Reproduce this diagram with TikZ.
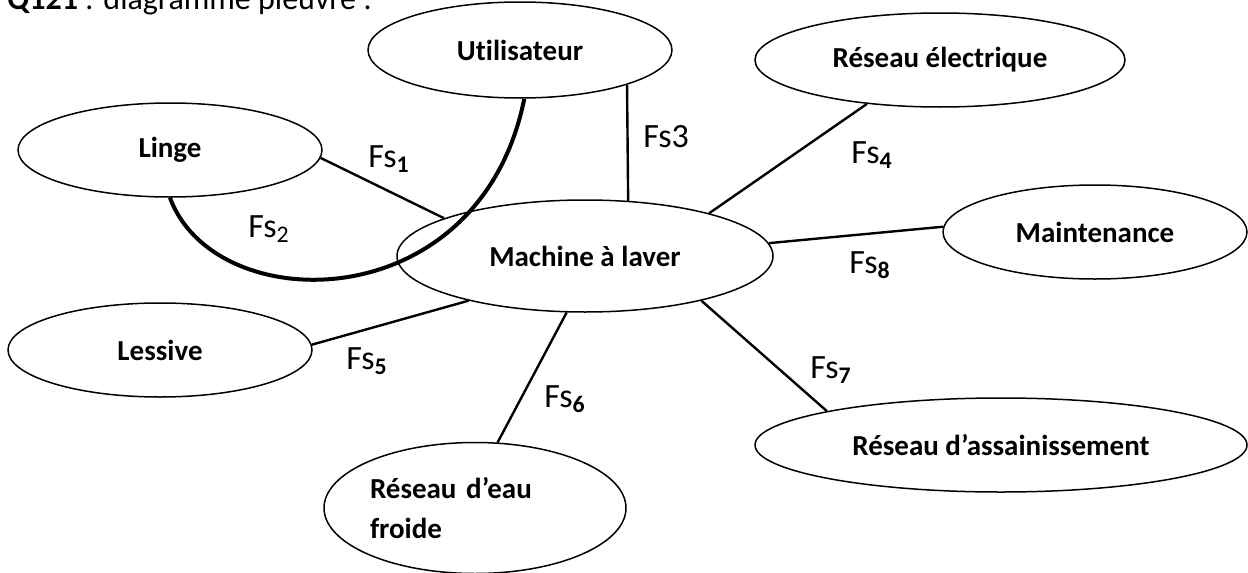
\documentclass[tikz,border=0pt]{standalone}
\usepackage{fontspec}
\setmainfont{Carlito}[Ligatures=NoCommon]
\usetikzlibrary{shapes,arrows.meta,positioning,calc}

\begin{document}
\begin{tikzpicture}[
    x=0.5pt, y=-0.5pt,
    bulle/.style={ellipse, draw, line width=0.75pt, inner sep=0pt, align=center, font=\fontsize{14.5}{20}\selectfont\bfseries},
    fs/.style={anchor=base west, inner sep=0pt, font=\fontsize{17}{20}\selectfont},
    lien/.style={line width=1.2pt}
]
    \useasboundingbox (0,0) rectangle (1248,573);

    \node [anchor=base west, inner sep=0pt, font=\fontsize{16}{20}\selectfont] (titre) at (7,10) {\textbf{Q121} : diagramme pieuvre :};

    \node [bulle, minimum width=188pt, minimum height=56pt] (machine) at (585,256) {Machine à laver};
    \node [bulle, minimum width=152pt, minimum height=48pt] (user) at (520,50) {Utilisateur};
    \node [bulle, minimum width=185pt, minimum height=47pt] (elec) at (940,60) {Réseau électrique};
    \node [bulle, minimum width=152pt, minimum height=47pt] (linge) at (170,150) {Linge};
    \node [bulle, minimum width=152pt, minimum height=47pt] (maint) at (1095,232) {Maintenance};
    \node [bulle, minimum width=152pt, minimum height=47pt] (lessive) at (160,350) {Lessive};
    \node [bulle, minimum width=246pt, minimum height=47pt] (assain) at (1001,445) {Réseau d’assainissement};
    \node [bulle, minimum width=151pt, minimum height=65.5pt, text width=105pt, align=left] (eau) at (475,508) {Réseau d’eau\\froide};

    \draw [lien] (linge.-3) -- (machine.165);
    \draw [line width=2pt] (linge.south) .. controls (215,320) and (480,320) .. (user.-85);
    \draw [lien] (user.-18) -- (machine.52);
    \draw [lien] (elec.211) -- (machine.19);
    \draw [lien] (maint.178) -- (machine.4);
    \draw [lien] (lessive.2) -- (machine.201);
    \draw [lien] (eau.71) -- (machine.252);
    \draw [lien] (assain.169) -- (machine.-21);

    \node [fs] (fs1) at (368,167) {Fs\textsubscript{\textbf{1}}};
    \node [fs] (fs2) at (248,237) {Fs\textsubscript{2}};
    \node [fs] (fs3) at (643,147) {Fs3};
    \node [fs] (fs4) at (851,163) {Fs\textsubscript{\textbf{4}}};
    \node [fs] (fs8) at (849,273) {Fs\textsubscript{\textbf{8}}};
    \node [fs] (fs5) at (346,369) {Fs\textsubscript{\textbf{5}}};
    \node [fs] (fs6) at (544,407) {Fs\textsubscript{\textbf{6}}};
    \node [fs] (fs7) at (810,378) {Fs\textsubscript{\textbf{7}}};
\end{tikzpicture}
\end{document}
